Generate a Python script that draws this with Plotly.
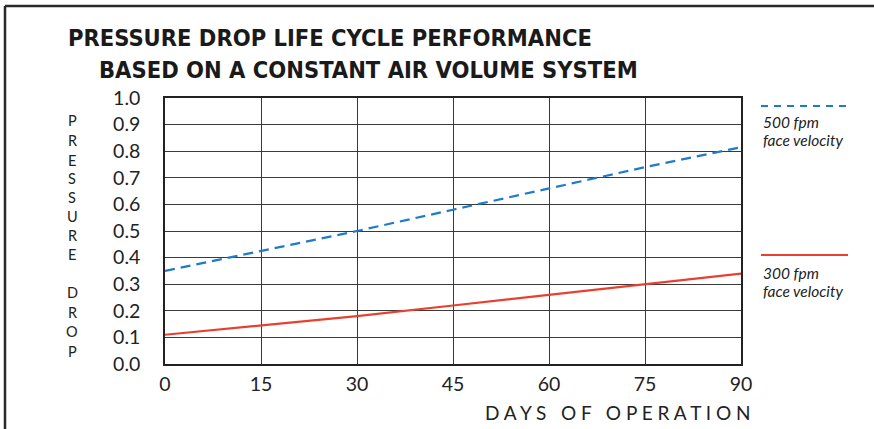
import plotly.graph_objects as go

days = [0, 15, 30, 45, 60, 75, 90]
drop_500 = [0.35, 0.425, 0.50, 0.58, 0.66, 0.74, 0.815]
drop_300 = [0.11, 0.145, 0.18, 0.22, 0.26, 0.30, 0.34]
x_ticks = [0, 15, 30, 45, 60, 75, 90]
y_ticks = [0.0, 0.1, 0.2, 0.3, 0.4, 0.5, 0.6, 0.7, 0.8, 0.9, 1.0]
title_1 = "PRESSURE DROP LIFE CYCLE PERFORMANCE"
title_2 = "BASED ON A CONSTANT AIR VOLUME SYSTEM"
y_letters = list("PRESSURE") + list("DROP")
x_title = "D A Y S   O F   O P E R A T I O N"

BLUE = "#1f7bc8"
RED = "#e8402f"
GRID = "#3a3a3a"

W, H = 874, 429
L, R, T, B = 165, 133, 98, 65
pw, ph = W - L - R, H - T - B


def px(x):
    return (x - L) / pw


def py(y):
    return (H - B - y) / ph


fig = go.Figure()
fig.add_trace(go.Scatter(x=days, y=drop_500, mode="lines",
                         line=dict(color=BLUE, width=2.2, dash="10px,6px"), showlegend=False))
fig.add_trace(go.Scatter(x=days, y=drop_300, mode="lines",
                         line=dict(color=RED, width=2.2), showlegend=False))

tick_font = dict(family="Lato, Open Sans, sans-serif", size=19.5, color="#222")
fig.update_xaxes(range=[0, 90], tickvals=x_ticks, ticktext=[str(v) for v in x_ticks],
                 showgrid=True, gridcolor=GRID, gridwidth=1.3, zeroline=False,
                 showline=True, linecolor="#222", linewidth=1.5, mirror=True,
                 tickfont=tick_font, ticks="", ticklabelstandoff=2)
fig.update_yaxes(range=[0, 1], tickvals=y_ticks, ticktext=[f"{v:.1f}" for v in y_ticks],
                 showgrid=True, gridcolor=GRID, gridwidth=1.3, zeroline=False,
                 showline=True, linecolor="#222", linewidth=1.5, mirror=True,
                 tickfont=tick_font, ticks="", ticklabelstandoff=19)

ann = []
tfont = dict(family="DejaVu Sans Condensed, Liberation Sans Narrow, sans-serif", size=23.5, color="#1a1a1a")
ann.append(dict(x=px(66), y=py(38), xref="paper", yref="paper", text="<b>" + title_1 + "</b>",
                showarrow=False, xanchor="left", yanchor="middle", font=tfont))
ann.append(dict(x=px(97), y=py(70), xref="paper", yref="paper", text="<b>" + title_2 + "</b>",
                showarrow=False, xanchor="left", yanchor="middle", font=tfont))

letter_y = [120, 140, 160, 178, 197, 216, 235, 254, 292, 312, 331, 351]
for ch, yy in zip(y_letters, letter_y):
    ann.append(dict(x=px(72), y=py(yy), xref="paper", yref="paper", text=ch, showarrow=False,
                    xanchor="center", yanchor="middle",
                    font=dict(family="Lato, sans-serif", size=14.5, color="#222")))

ann.append(dict(x=px(752), y=py(412), xref="paper", yref="paper", text=x_title, showarrow=False,
                xanchor="right", yanchor="middle",
                font=dict(family="Lato, sans-serif", size=19, color="#222")))

lfont = dict(family="Lato, sans-serif", size=15.5, color="#222")
for txt, yy in [("<i>500 fpm</i>", 122), ("<i>face velocity</i>", 140),
                ("<i>300 fpm</i>", 273), ("<i>face velocity</i>", 291)]:
    ann.append(dict(x=px(761), y=py(yy), xref="paper", yref="paper", text=txt, showarrow=False,
                    xanchor="left", yanchor="middle", font=lfont))

shapes = [
    dict(type="line", xref="paper", yref="paper", x0=px(761), x1=px(848), y0=py(106), y1=py(106),
         line=dict(color=BLUE, width=2.2, dash="7px,6px")),
    dict(type="line", xref="paper", yref="paper", x0=px(761), x1=px(848), y0=py(255), y1=py(255),
         line=dict(color=RED, width=2.2)),
    dict(type="line", xref="paper", yref="paper", x0=px(5), x1=px(874), y0=py(6), y1=py(6),
         line=dict(color="#2a2a2a", width=2.5)),
    dict(type="line", xref="paper", yref="paper", x0=px(5), x1=px(5), y0=py(6), y1=py(429),
         line=dict(color="#2a2a2a", width=2.5)),
]

fig.update_layout(width=W, height=H, margin=dict(l=L, r=R, t=T, b=B),
                  paper_bgcolor="white", plot_bgcolor="white",
                  annotations=ann, shapes=shapes, showlegend=False)

fig.write_html("out.html", config={"displayModeBar": False},
               post_script="document.body.style.margin='0';document.body.style.overflow='hidden';")
